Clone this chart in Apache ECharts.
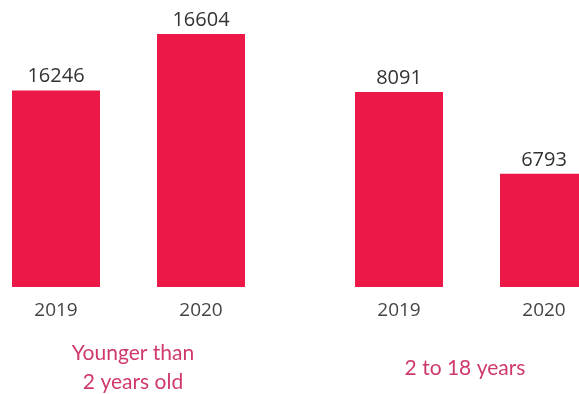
<!DOCTYPE html>
<html><head><meta charset="utf-8">
<script src="https://cdn.jsdelivr.net/npm/echarts@6/dist/echarts.min.js"></script>
<style>html,body{margin:0;padding:0;background:#fff}#c{width:579px;height:394px}</style>
</head><body><div id="c"></div>
<script>
var years = ['2019', '2020'];
var groupNames = ['Younger than\n2 years old', '2 to 18 years'];
var youngerThan2 = [16246, 16604];
var from2to18 = [8091, 6793];

var chart = echarts.init(document.getElementById('c'));
var barColor = '#ec1847';
var labelStyle = {show: true, position: 'top', distance: 4, color: '#333', fontSize: 20, fontFamily: 'Open Sans'};
var axisLabel = {color: '#444', fontSize: 19, fontFamily: 'Open Sans', margin: 14};
var titleStyle = {color: '#cf3a6a', fontSize: 21, fontFamily: 'Lato', lineHeight: 29, fontWeight: 'normal'};

chart.setOption({
  animation: false,
  title: [
    {text: groupNames[0], left: 128, top: 334, textAlign: 'center', textStyle: titleStyle},
    {text: groupNames[1], left: 460, top: 349, textAlign: 'center', textStyle: titleStyle}
  ],
  grid: [
    {left: -16.5, width: 290, top: 3, bottom: 107, outerBoundsMode: 'none', containLabel: false},
    {left: 326.5, width: 290, top: 3, bottom: 107, outerBoundsMode: 'none', containLabel: false}
  ],
  xAxis: [
    {gridIndex: 0, type: 'category', data: years, axisLine: {show: false}, axisTick: {show: false}, axisLabel: axisLabel},
    {gridIndex: 1, type: 'category', data: years, axisLine: {show: false}, axisTick: {show: false}, axisLabel: axisLabel}
  ],
  yAxis: [
    {gridIndex: 0, type: 'value', min: 15000, max: 16800, show: false, splitLine: {show: false}},
    {gridIndex: 1, type: 'value', min: 5000, max: 9500, show: false, splitLine: {show: false}}
  ],
  series: [
    {type: 'bar', xAxisIndex: 0, yAxisIndex: 0, data: youngerThan2, barWidth: 88, itemStyle: {color: barColor}, label: labelStyle},
    {type: 'bar', xAxisIndex: 1, yAxisIndex: 1, data: from2to18, barWidth: 88, itemStyle: {color: barColor}, label: labelStyle}
  ]
});
</script></body></html>
